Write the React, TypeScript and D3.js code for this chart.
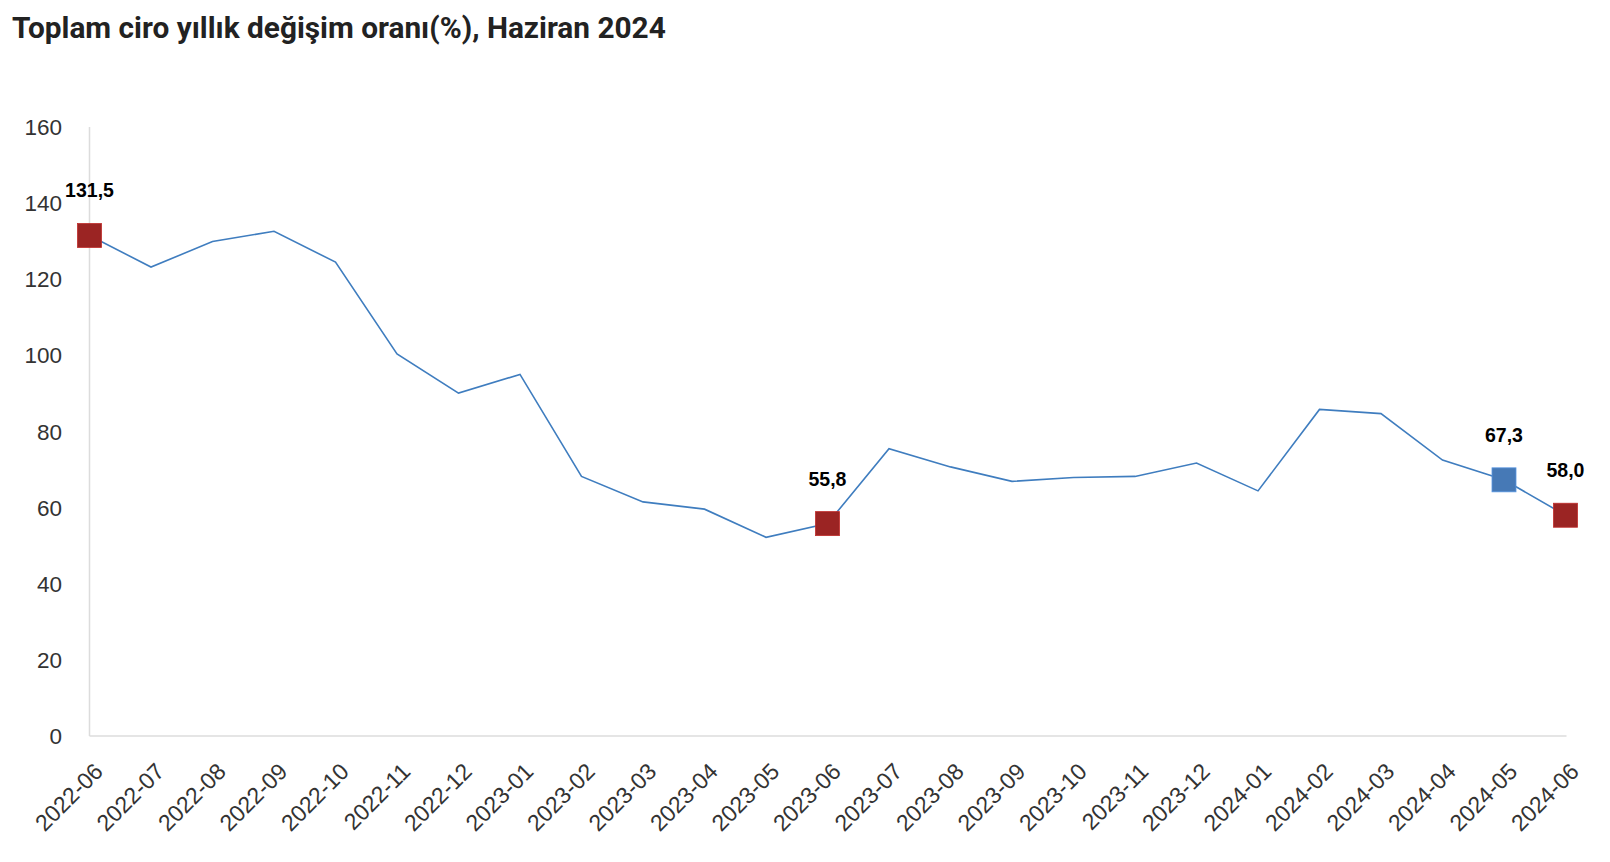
import React from "react";
import * as d3 from "d3";

const title = "Toplam ciro yıllık değişim oranı(%), Haziran 2024";
const months = [
  "2022-06","2022-07","2022-08","2022-09","2022-10","2022-11","2022-12",
  "2023-01","2023-02","2023-03","2023-04","2023-05","2023-06","2023-07",
  "2023-08","2023-09","2023-10","2023-11","2023-12","2024-01","2024-02",
  "2024-03","2024-04","2024-05","2024-06",
];
const values = [
  131.5, 123.2, 129.9, 132.6, 124.5, 100.4, 90.1, 95.0, 68.2, 61.5, 59.6, 52.2,
  55.8, 75.5, 70.7, 66.9, 67.9, 68.2, 71.7, 64.4, 85.8, 84.7, 72.5, 67.3, 58.0,
];
const yTicks = [0, 20, 40, 60, 80, 100, 120, 140, 160];
const highlights = [
  { month: "2022-06", label: "131,5", color: "#9b2423" },
  { month: "2023-06", label: "55,8", color: "#9b2423" },
  { month: "2024-05", label: "67,3", color: "#4679b6" },
  { month: "2024-06", label: "58,0", color: "#9b2423" },
];

export default function App() {
  const W = 1610, H = 862;
  const left = 89.5, right = 1565.5, top = 127, bottom = 736;
  const x = d3.scalePoint<string>().domain(months).range([left, right]);
  const y = d3.scaleLinear().domain([0, 160]).range([bottom, top]);
  const line = d3.line<number>().x((_, i) => x(months[i])!).y((d) => y(d));
  const vi = (m: string) => values[months.indexOf(m)];
  const ms = 24;
  const font = "'Liberation Sans', Arial, sans-serif";
  return (
    <svg width={W} height={H} style={{ position: "absolute", left: 0, top: 0, background: "#fff" }}>
      <text x={12} y={38} fontFamily="Roboto, 'Liberation Sans', sans-serif" fontWeight={700} fontSize={29.8} fill="#222">
        {title}
      </text>
      <line x1={left} x2={left} y1={top} y2={bottom} stroke="#dcdcdc" strokeWidth={1.5} />
      <line x1={left} x2={right + 1} y1={bottom} y2={bottom} stroke="#dcdcdc" strokeWidth={1.5} />
      {yTicks.map((t) => (
        <text key={t} x={62} y={y(t)} dy="0.36em" textAnchor="end" fontFamily={font} fontSize={22.5} fill="#333">
          {t}
        </text>
      ))}
      {months.map((m) => (
        <text key={m} transform={`translate(${x(m)! + 9},${bottom + 31}) rotate(-45)`} textAnchor="end" dy="0.36em" fontFamily={font} fontSize={23} fill="#333">
          {m}
        </text>
      ))}
      <path d={line(values)!} fill="none" stroke="#3f7dbf" strokeWidth={1.6} />
      {highlights.map((h) => (
        <g key={h.month}>
          <rect x={x(h.month)! - ms / 2} y={y(vi(h.month)) - ms / 2} width={ms} height={ms} fill={h.color} stroke={d3.color(h.color)!.brighter(0.6).toString()} strokeWidth={0.8} />
          <text x={x(h.month)!} y={y(vi(h.month)) - 38} textAnchor="middle" fontFamily={font} fontWeight={700} fontSize={19.5} fill="#000">
            {h.label}
          </text>
        </g>
      ))}
    </svg>
  );
}
